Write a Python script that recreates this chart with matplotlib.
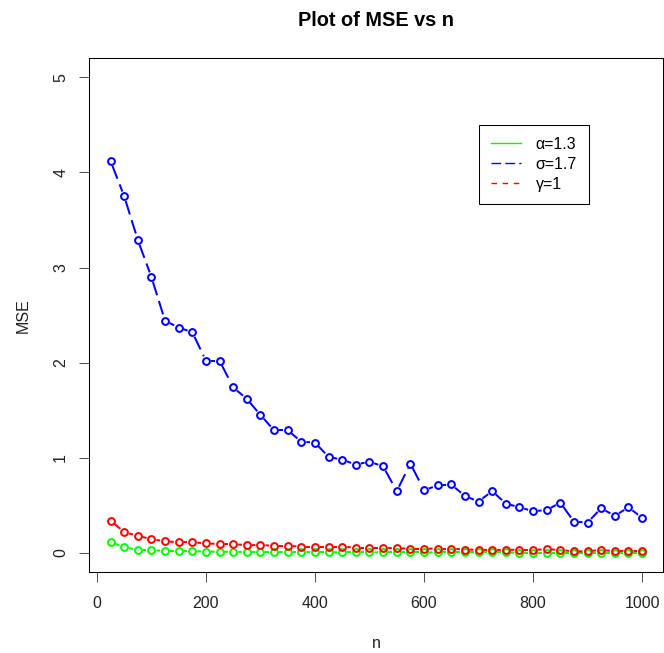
import numpy as np
import matplotlib
matplotlib.use("Agg")
import matplotlib.pyplot as plt
from matplotlib.lines import Line2D

plt.rcParams['font.family'] = ['Liberation Sans', 'DejaVu Sans']

# sample sizes and MSE for each parameter estimate
n = np.arange(25, 1001, 25)

mse_alpha = [0.116, 0.060, 0.030, 0.030, 0.020, 0.020, 0.020, 0.015, 0.013, 0.012,
             0.011, 0.010, 0.010, 0.009, 0.009, 0.008, 0.008, 0.007, 0.007, 0.007,
             0.006, 0.006, 0.006, 0.006, 0.005, 0.005, 0.005, 0.005, 0.005, 0.005,
             0.004, 0.004, 0.004, 0.004, 0.004, 0.004, 0.004, 0.004, 0.004, 0.004]

mse_sigma = [4.12, 3.75, 3.29, 2.90, 2.44, 2.37, 2.32, 2.02, 2.02, 1.74,
             1.62, 1.45, 1.29, 1.29, 1.17, 1.16, 1.01, 0.98, 0.93, 0.96,
             0.91, 0.65, 0.94, 0.66, 0.71, 0.72, 0.60, 0.54, 0.65, 0.52,
             0.48, 0.44, 0.45, 0.53, 0.33, 0.32, 0.47, 0.39, 0.48, 0.37]

mse_gamma = [0.340, 0.220, 0.180, 0.145, 0.123, 0.113, 0.113, 0.100, 0.095, 0.095,
             0.080, 0.085, 0.074, 0.074, 0.067, 0.067, 0.067, 0.067, 0.056, 0.056,
             0.056, 0.050, 0.045, 0.045, 0.046, 0.046, 0.036, 0.034, 0.030, 0.035,
             0.032, 0.032, 0.039, 0.032, 0.016, 0.018, 0.032, 0.018, 0.025, 0.018]

labels = ['α=1.3', 'σ=1.7', 'γ=1']
colors = ['#00ff00', '#0000ff', '#ff0000']
styles = ['-', (0, (7, 3)), (0, (4, 4))]

LW = 1.44        # 2 px at 100 dpi
GAP = 5.0        # px left blank around each point (type="b")

fig = plt.figure(figsize=(6.64, 6.53), dpi=100)
ax = fig.add_axes([89.3 / 664, 1 - 572 / 653, (663.3 - 89.3) / 664, (572 - 58.3) / 653])
ax.set_xlim(-14, 1039)
ax.set_ylim(-0.2, 5.2)


def draw_b(ax, x, y, color, ls):
    # lines broken around the points, then open circles on top
    pts = ax.transData.transform(np.column_stack([x, y]))
    inv = ax.transData.inverted()
    for p0, p1 in zip(pts[:-1], pts[1:]):
        d = p1 - p0
        L = np.hypot(*d)
        if L <= 2 * GAP:
            continue
        u = d / L
        a = inv.transform(p0 + u * GAP)
        b = inv.transform(p1 - u * GAP)
        ax.plot([a[0], b[0]], [a[1], b[1]], color=color, ls=ls, lw=LW,
                solid_capstyle='butt', dash_capstyle='butt')
    ax.plot(x, y, 'o', ls='none', mfc='none', mec=color, ms=4.9, mew=LW)


for vals, col, ls in zip([mse_alpha, mse_sigma, mse_gamma], colors, styles):
    draw_b(ax, n, vals, col, ls)

ax.set_xticks([0, 200, 400, 600, 800, 1000])
ax.set_yticks([0, 1, 2, 3, 4, 5])
ax.set_yticklabels(['0', '1', '2', '3', '4', '5'], rotation=90, va='center')
ax.tick_params(axis='both', direction='out', length=7.2, width=0.75,
               color='#555555', labelsize=11.5, labelcolor='#222222')
ax.tick_params(axis='x', pad=10)
ax.tick_params(axis='y', pad=8)
for sp in ax.spines.values():
    sp.set_linewidth(0.75)
    sp.set_color('black')

ax.set_title('Plot of MSE vs n', fontsize=14.3, fontweight='bold', pad=23)
ax.set_xlabel('n', fontsize=11.5, labelpad=18, color='#222222')
ax.set_ylabel('MSE', fontsize=11.5, labelpad=16, color='#222222')

handles = [Line2D([], [], color=c, ls=s, lw=1.0) for c, s in zip(colors, styles)]
leg = ax.legend(handles, labels, loc='upper left',
                bbox_to_anchor=((479 - 89.3) / 574, (572 - 125) / 513.7),
                borderaxespad=0, fontsize=11.5, handlelength=1.85, handletextpad=0.95,
                labelspacing=0.3, borderpad=0.75, fancybox=False, framealpha=1,
                edgecolor='black')
leg.get_frame().set_linewidth(0.75)

fig.savefig('out.png', dpi=100, facecolor='white')
